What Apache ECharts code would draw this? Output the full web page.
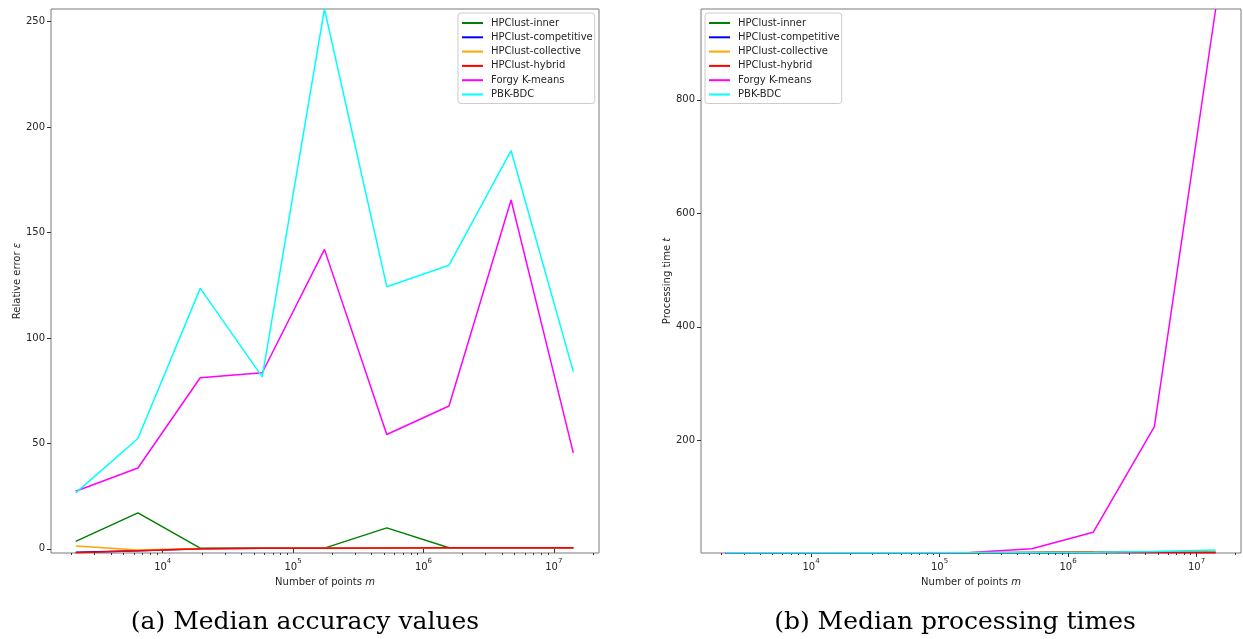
<!DOCTYPE html>
<html>
<head>
<meta charset="utf-8">
<script src="https://cdn.jsdelivr.net/npm/echarts@6/dist/echarts.min.js"></script>
<style>
html,body{margin:0;padding:0;background:#fff;}
#c{width:1243px;height:639px;}
</style>
</head>
<body>
<div id="c"></div>
<script>
// ---- data ----
const seriesNames = ['HPClust-inner','HPClust-competitive','HPClust-collective','HPClust-hybrid','Forgy K-means','PBK-BDC'];
const seriesColors = ['#008000','#0000ff','#ffa500','#ff0000','#ff00ff','#00ffff'];
const pointsM = [2150, 6450, 19400, 58000, 174000, 523000, 1570000, 4700000, 14100000];

// (a) relative error
const errInner       = [3.5, 17.0, 0.3, 0.3, 0.3, 9.9, 0.5, 0.5, 0.5];
const errCompetitive = [-1.6, -0.9, 0.0, 0.3, 0.3, 0.4, 0.5, 0.5, 0.5];
const errCollective  = [1.3, -0.6, 0.1, 0.3, 0.3, 0.4, 0.5, 0.5, 0.5];
const errHybrid      = [-1.9, -0.9, 0.0, 0.3, 0.3, 0.4, 0.5, 0.5, 0.5];
const errForgy       = [27.3, 38.3, 81.1, 83.5, 142.0, 54.2, 67.7, 165.4, 45.5];
const errPBK         = [26.5, 52.3, 123.5, 81.5, 256.0, 124.3, 134.5, 188.8, 84.0];

// (b) processing time
const timeInner       = [1.6, 1.7, 1.8, 1.9, 2.0, 2.3, 2.8, 3.0, 3.0];
const timeCompetitive = [1.5, 1.6, 1.7, 1.8, 1.9, 2.0, 2.2, 2.3, 2.5];
const timeCollective  = [1.6, 1.7, 1.8, 1.9, 2.0, 2.5, 3.5, 3.5, 3.0];
const timeHybrid      = [1.6, 1.7, 1.8, 1.9, 2.0, 2.5, 3.0, 2.5, 2.0];
const timeForgy       = [1.7, 1.8, 2.0, 2.0, 2.5, 9.0, 38.0, 224.0, 960.0];
const timePBK         = [1.8, 1.9, 2.0, 2.0, 2.2, 2.5, 3.0, 4.0, 7.0];

const xMajorTicks = [1e4, 1e5, 1e6, 1e7];
const yTicksErr = [0, 50, 100, 150, 200, 250];
const yTicksTime = [200, 400, 600, 800];
const captions = ['(a) Median accuracy values', '(b) Median processing times'];

// minor tick positions (2..9 x 10^k)
const xMinorTicks = [];
for (let k = 3; k <= 7; k++) for (let d = 2; d <= 9; d++) {
  const v = d * Math.pow(10, k);
  if (v > 1390 && v < 2.22e7) xMinorTicks.push(v);
}

const errSets = [errInner, errCompetitive, errCollective, errHybrid, errForgy, errPBK];
const timeSets = [timeInner, timeCompetitive, timeCollective, timeHybrid, timeForgy, timePBK];

const FONT = 'DejaVu Sans';
const TXT = '#262626';
const FRAME = '#7a7a7a';

function xAxes(gridIndex) {
  return [{
    type: 'log', gridIndex, min: 1390, max: 2.22e7, logBase: 10,
    axisLine: {show: false},
    splitLine: {show: false},
    axisTick: {show: true, customValues: xMajorTicks, length: 4, lineStyle: {color: '#333'}},
    axisLabel: {
      customValues: xMajorTicks, margin: 5, color: TXT,
      formatter: v => '{b|10}{s|' + Math.round(Math.log10(v)) + '}',
      rich: {
        b: {fontSize: 10, fontFamily: FONT, color: TXT, verticalAlign: 'bottom', padding: [4,0,0,0]},
        s: {fontSize: 7, fontFamily: FONT, color: TXT, verticalAlign: 'top'}
      }
    },
    name: 'Number of points {i|m}', nameLocation: 'middle', nameGap: 24,
    nameTextStyle: {fontSize: 10, fontFamily: FONT, color: TXT,
      rich: {i: {fontSize: 10, fontFamily: FONT, fontStyle: 'italic', color: TXT}}}
  }, {
    type: 'log', gridIndex, min: 1390, max: 2.22e7, logBase: 10, position: 'bottom',
    axisLine: {show: false}, splitLine: {show: false},
    axisLabel: {show: false},
    axisTick: {show: true, customValues: xMinorTicks, length: 2, lineStyle: {color: '#333'}}
  }];
}

function yAxis(gridIndex, min, max, ticks, nameMain, nameIt, gap) {
  return {
    type: 'value', gridIndex, min, max,
    axisLine: {show: false}, splitLine: {show: false},
    axisTick: {show: true, customValues: ticks, length: 4, lineStyle: {color: '#333'}},
    axisLabel: {customValues: ticks, fontSize: 10, fontFamily: FONT, color: TXT, margin: 6},
    name: nameMain + ' {i|' + nameIt + '}', nameLocation: 'middle', nameGap: gap, nameRotate: 90,
    nameTextStyle: {fontSize: 10, fontFamily: FONT, color: TXT,
      rich: {i: {fontSize: 10, fontFamily: FONT, fontStyle: 'italic', color: TXT}}}
  };
}

const series = [];
seriesNames.forEach((n, i) => {
  series.push({
    name: n, type: 'line', xAxisIndex: 0, yAxisIndex: 0,
    data: pointsM.map((x, j) => [x, errSets[i][j]]),
    symbol: 'none', color: seriesColors[i],
    lineStyle: {width: 1.5, color: seriesColors[i]}, clip: true
  });
});
seriesNames.forEach((n, i) => {
  series.push({
    name: n, type: 'line', xAxisIndex: 2, yAxisIndex: 1,
    data: pointsM.map((x, j) => [x, timeSets[i][j]]),
    symbol: 'none', color: seriesColors[i],
    lineStyle: {width: 1.5, color: seriesColors[i]}, clip: true
  });
});

function legend(left) {
  return {
    data: seriesNames, orient: 'vertical', left, top: 13,
    icon: 'rect', itemWidth: 21, itemHeight: 2, itemGap: 2.3,
    padding: [4, 2, 3, 4],
    backgroundColor: 'rgba(255,255,255,0.8)', borderColor: '#cccccc', borderWidth: 1, borderRadius: 3,
    textStyle: {fontSize: 10, fontFamily: FONT, color: TXT, lineHeight: 12, padding: [0,0,0,3]},
    selectedMode: false
  };
}

const chart = echarts.init(document.getElementById('c'), null, {renderer: 'canvas'});
chart.setOption({
  animation: false,
  backgroundColor: '#fff',
  grid: [
    {left: 51, top: 9, width: 548, height: 544, show: true, borderColor: FRAME, borderWidth: 1, backgroundColor: 'transparent'},
    {left: 701, top: 9, width: 540, height: 544, show: true, borderColor: FRAME, borderWidth: 1, backgroundColor: 'transparent'}
  ],
  xAxis: [...xAxes(0), ...xAxes(1)],
  yAxis: [
    yAxis(0, -2, 256, yTicksErr, 'Relative error', 'ε', 28),
    yAxis(1, 1.5, 960, yTicksTime, 'Processing time', 't', 29)
  ],
  legend: [legend(458), legend(705)],
  series,
  graphic: [
    {type: 'text', x: 305, y: 622, style: {text: captions[0], font: '25px "DejaVu Serif"', fill: '#000', align: 'center', verticalAlign: 'middle'}},
    {type: 'text', x: 955, y: 622, style: {text: captions[1], font: '25px "DejaVu Serif"', fill: '#000', align: 'center', verticalAlign: 'middle'}}
  ]
});
</script>
</body>
</html>
